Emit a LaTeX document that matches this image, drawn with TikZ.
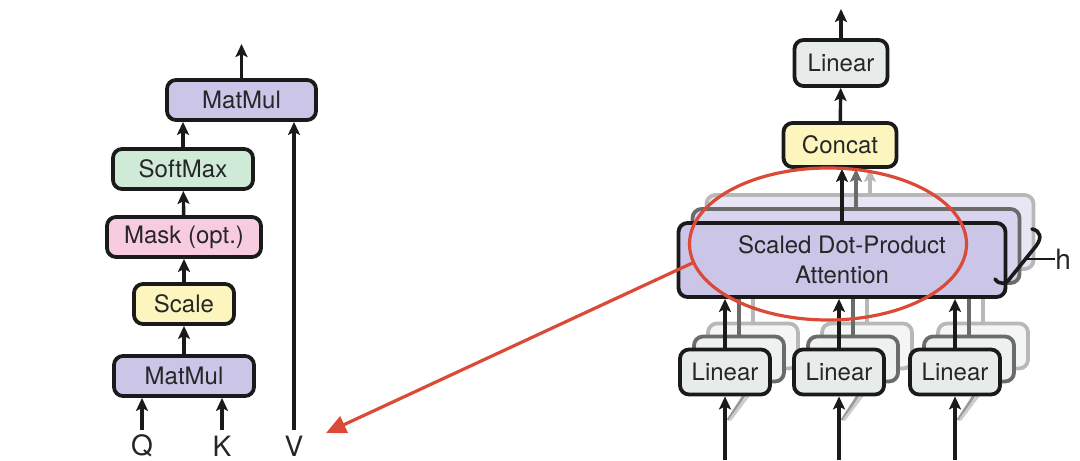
\documentclass[tikz,border=0pt]{standalone}
\usepackage{fontspec}
\setmainfont{TeX Gyre Heros}
\usepackage{tikz}
\usetikzlibrary{arrows.meta,positioning,shapes.geometric}
\definecolor{blkInk}{HTML}{1A1A1A}
\definecolor{txtInk}{HTML}{262626}
\definecolor{attPurple}{HTML}{CBC5E8}
\definecolor{smGreen}{HTML}{CFEAD7}
\definecolor{maskPink}{HTML}{F7CCE0}
\definecolor{scYellow}{HTML}{FCF6BE}
\definecolor{linGray}{HTML}{E7ECEB}
\definecolor{focusRed}{HTML}{DB4A36}
\newcommand\blkfont{\fontsize{12}{15}\selectfont}
\tikzset{
  blk/.style     = {draw=blkInk, line width=1.9pt, rounded corners=4.5pt,
                    inner sep=0pt, minimum height=20pt, text=txtInk,
                    font=\blkfont, align=center},
  bmat/.style    = {blk, fill=attPurple},
  bsoft/.style   = {blk, fill=smGreen},
  bmask/.style   = {blk, fill=maskPink},
  bscale/.style  = {blk, fill=scYellow},
  linbox/.style  = {blk, fill=linGray, minimum width=45pt, minimum height=22.5pt},
  sdpabox/.style = {blk, fill=attPurple, minimum width=163.5pt, minimum height=37pt},
  arr/.style     = {-{Stealth[length=6.5pt,width=6pt,inset=1.4pt]}, line width=1.7pt,
                    draw=blkInk},
  qkv/.style     = {font=\fontsize{14}{16}\selectfont, text=txtInk, inner sep=0pt},
  focus/.style   = {ellipse, draw=focusRed, line width=1.6pt, inner sep=0pt},
  redarr/.style  = {-{Triangle[length=10pt,width=9pt]}, draw=focusRed,
                    fill=focusRed, line width=1.6pt},
}

\begin{document}
\begin{tikzpicture}[x=0.5pt, y=-0.5pt]
  \useasboundingbox (0,0) rectangle (1080,460);
  % scaled dot-product attention
  \node[bmat, minimum width=74.5pt] (mmtop) at (241.5,100) {MatMul};
  \node[bsoft, minimum width=70pt]  (softmax) at (183,169) {SoftMax};
  \node[bmask, minimum width=77pt]  (mask) at (184,237) {Mask (opt.)};
  \node[bscale, minimum width=50pt] (scale) at (184,304) {Scale};
  \node[bmat, minimum width=70pt]   (mmbot) at (184,376) {MatMul};
  \node[qkv] (qlab) at (142,446) {Q};
  \node[qkv] (klab) at (222,446) {K};
  \node[qkv] (vlab) at (294,446) {V};
  \coordinate (qin) at (142,430);
  \coordinate (kin) at (222,430);
  \coordinate (vin) at (294,430);
  \coordinate (outL) at (241.5,44);
  \draw[arr] (qin) -- (qin |- mmbot.south);
  \draw[arr] (kin) -- (kin |- mmbot.south);
  \draw[arr] (vin) -- (vin |- mmtop.south);
  \draw[arr] (mmbot) -- (scale);
  \draw[arr] (scale) -- (mask);
  \draw[arr] (mask) -- (softmax);
  \draw[arr] (softmax.north) -- (softmax.north |- mmtop.south);
  \draw[arr] (mmtop) -- (outL);

  % multi-head attention
  \node[blk, fill=linGray, minimum width=46.5pt, minimum height=23pt] (lintop) at (841,63) {Linear};
  \node[bscale, minimum width=56.5pt, minimum height=22pt] (concat) at (840,145) {Concat};
  \coordinate (outR) at (841,9);
  \draw[arr] (lintop) -- (outR);
  \draw[arr] (concat) -- (lintop);
  \foreach \k/\shade/\fade in {2/28/45,1/58/75}{
    \node[sdpabox, draw=black!\shade, fill=attPurple!\fade!white] (sdpa\k)
      at ({842+14*\k},{260-14*\k}) {};
    \draw[arr, draw=black!\shade] (sdpa\k.north) -- (sdpa\k.north |- concat.south);
    \foreach \n/\x in {q/725,k/839,v/955}{
      \node[linbox, draw=black!\shade, fill=linGray!\fade!white] (lin\n\k)
        at ({\x+14*\k},{372-13*\k}) {};
      \draw[draw=black!\shade, line width=1.6pt] (lin\n\k.north) -- (lin\n\k.north |- sdpa\k.south);
    }
  }
  \node[sdpabox] (sdpa) at (842,260) {Scaled Dot-Product\\Attention};
  \draw[arr] (sdpa) -- (sdpa |- concat.south);
  \foreach \n/\x in {q/725,k/839,v/955}{
    \draw[black!40, line width=1.4pt] ({\x+3},420) -- ({\x+20},394);
    \draw[black!20, line width=1.4pt] ({\x+5},420) -- ({\x+32},384);
    \node[linbox] (lin\n) at (\x,372) {Linear};
    \coordinate (in\n) at (\x,460);
    \draw[arr] (in\n) -- (lin\n);
    \draw[arr] (lin\n) -- (lin\n |- sdpa.south);
  }
  % h bracket
  \draw[blkInk, line width=1.8pt, line cap=round]
    (1032,229) .. controls (1041,231) and (1042,238) .. (1036,246)
    -- (1011,277) .. controls (1006,285) and (999,285) .. (995,279);
  \coordinate (brtip) at (1025,259);
  \node[qkv, anchor=west] (hlab) at (1055,259) {h};
  \draw[blkInk, line width=1pt] (brtip) -- (hlab.west);

  % highlight
  \node[focus, minimum width=138.5pt, minimum height=76pt] (zoomring) at (828,244) {};
  \coordinate (vtip) at (326,433);
  \draw[redarr] (zoomring.188) -- (vtip);
\end{tikzpicture}
\end{document}
